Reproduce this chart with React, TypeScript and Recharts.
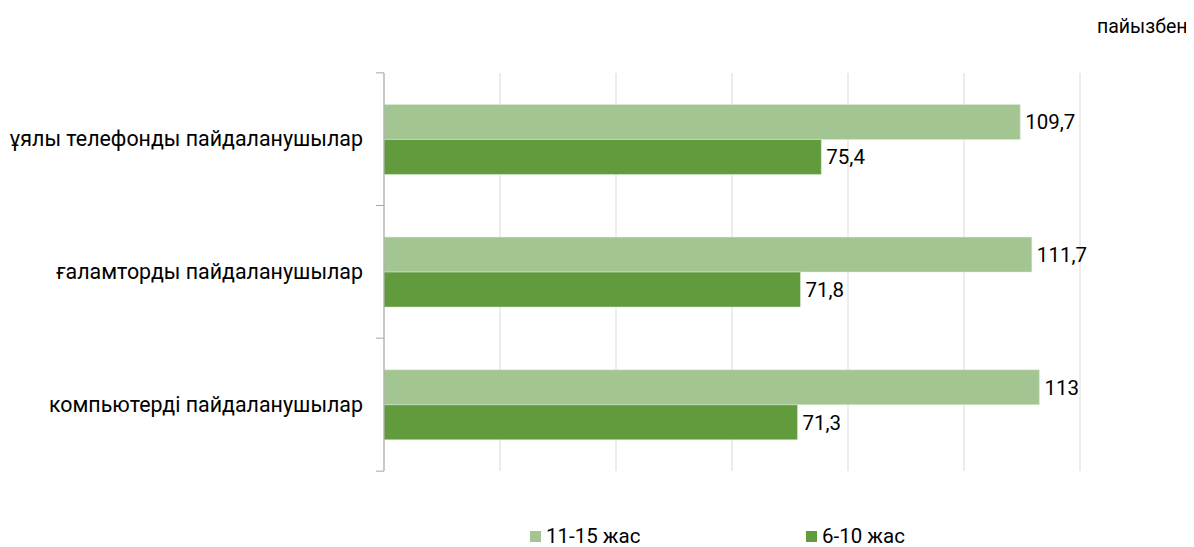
import { BarChart, Bar, XAxis, YAxis, CartesianGrid, Legend, LabelList } from 'recharts';

const categories = ['ұялы телефонды пайдаланушылар', 'ғаламторды пайдаланушылар', 'компьютерді пайдаланушылар'];
const older = [109.7, 111.7, 113];
const younger = [75.4, 71.8, 71.3];
const seriesNames = ['11-15 жас', '6-10 жас'];
const xTicks = [0, 20, 40, 60, 80, 100, 120];

const COLORS = ['#a3c592', '#629a3e'];
const FONT = 'Roboto, sans-serif';

const data = categories.map((name, i) => ({ name, older: older[i], younger: younger[i] }));

const fmt = (v: any) => String(v).replace('.', ',');

// tick marks sit on the band edges, not on the category centre
const CategoryTick = ({ x, y, payload, index }: any) => (
  <g>
    <line x1={x} x2={x + 8} y1={y - 66.5} y2={y - 66.5} stroke="#a6a6a6" />
    {index === categories.length - 1 && (
      <line x1={x} x2={x + 8} y1={y + 66.5} y2={y + 66.5} stroke="#a6a6a6" />
    )}
    <text x={x - 13} y={y} dy={7} textAnchor="end" fontSize={21.4} fill="#000" fontFamily={FONT}>
      {payload.value}
    </text>
  </g>
);

const LegendBox = () => (
  <div style={{ display: 'flex', fontFamily: FONT, fontSize: 20.5, color: '#000', paddingLeft: 522 }}>
    {seriesNames.map((n, i) => (
      <div key={n} style={{ display: 'flex', alignItems: 'center', width: 276 }}>
        <span style={{ width: 11, height: 11, background: COLORS[i], marginRight: 5 }} />
        {n}
      </div>
    ))}
  </div>
);

export default function App() {
  return (
    <div style={{ position: 'relative', width: 1178, height: 539 }}>
      <div style={{ position: 'absolute', left: 1089, top: 7, fontFamily: FONT, fontSize: 19.5, color: '#000', whiteSpace: 'nowrap' }}>
        пайызбен
      </div>
      <BarChart
        width={1178}
        height={539}
        data={data}
        layout="vertical"
        margin={{ top: 65, right: 106, bottom: 52, left: 0 }}
        barCategoryGap="23.7%"
        barGap={0}
      >
        <CartesianGrid horizontal={false} stroke="#d9d9d9" />
        <XAxis type="number" domain={[0, 120]} ticks={xTicks} hide />
        <YAxis
          type="category"
          dataKey="name"
          width={376}
          axisLine={{ stroke: '#a6a6a6' }}
          tickLine={false}
          tick={<CategoryTick />}
        />
        <Legend
          content={<LegendBox />}
          wrapperStyle={{ position: 'absolute', top: 516, left: 0, width: 1178 }}
        />
        <Bar dataKey="older" name={seriesNames[0]} fill={COLORS[0]} stroke="#dfeeda" strokeWidth={0.5} isAnimationActive={false}>
          <LabelList dataKey="older" position="right" offset={5} formatter={fmt} fill="#000" fontSize={20.5} fontFamily={FONT} />
        </Bar>
        <Bar dataKey="younger" name={seriesNames[1]} fill={COLORS[1]} stroke="#dfeeda" strokeWidth={0.5} isAnimationActive={false}>
          <LabelList dataKey="younger" position="right" offset={5} formatter={fmt} fill="#000" fontSize={20.5} fontFamily={FONT} />
        </Bar>
      </BarChart>
    </div>
  );
}
